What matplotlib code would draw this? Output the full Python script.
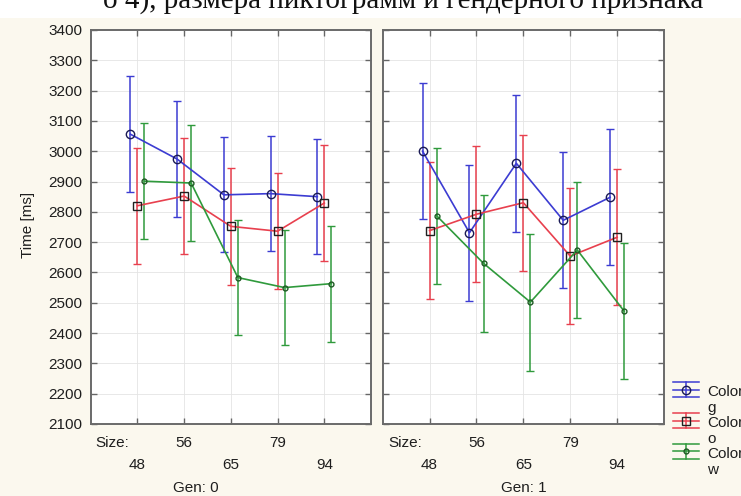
import matplotlib
matplotlib.use("Agg")
import matplotlib.pyplot as plt
import matplotlib.transforms as mtransforms
from matplotlib.legend_handler import HandlerBase
from matplotlib.lines import Line2D
from matplotlib.patches import Rectangle
import numpy as np

sizes = ["48", "56", "65", "79", "94"]
gens = ["Gen: 0", "Gen: 1"]
labels = ["Color\ng", "Color\no", "Color\nw"]

# Gen 0: means and half-widths of the error bars
g0_mean = [3056, 2974, 2856, 2860, 2850]
g0_err = [192, 192, 190, 190, 190]
o0_mean = [2820, 2852, 2752, 2736, 2829]
o0_err = [192, 192, 193, 192, 191]
w0_mean = [2901, 2895, 2583, 2550, 2563]
w0_err = [192, 192, 190, 190, 191]

# Gen 1
g1_mean = [3000, 2731, 2960, 2772, 2848]
g1_err = [225, 225, 225, 225, 224]
o1_mean = [2738, 2792, 2830, 2654, 2716]
o1_err = [225, 225, 225, 225, 225]
w1_mean = [2787, 2630, 2502, 2674, 2472]
w1_err = [225, 225, 226, 224, 225]

panels = [
    [(g0_mean, g0_err), (o0_mean, o0_err), (w0_mean, w0_err)],
    [(g1_mean, g1_err), (o1_mean, o1_err), (w1_mean, w1_err)],
]

colors = ["#3c3cd2", "#e8404e", "#2f9a3c"]
edge = ["#1a1a55", "#202020", "#1f5a24"]
markers = ["o", "s", "o"]
msizes = [6, 6, 3.5]
offsets = [-0.15, 0.0, 0.15]

plt.rcParams["font.family"] = ["Liberation Sans", "DejaVu Sans"]
plt.rcParams["font.size"] = 11


class ErrBarHandler(HandlerBase):
    # statistica-style legend key: three bars, a whisker and the marker
    def create_artists(self, legend, orig_handle, xdescent, ydescent,
                       width, height, fontsize, trans):
        y0 = height / 2 - ydescent + 0.7 * fontsize
        x0, x1 = -xdescent, width - xdescent
        d = 0.5 * fontsize
        c = orig_handle.get_color()
        arts = [Line2D([x0, x1], [yy, yy], color=c, lw=1.1)
                for yy in (y0 - d, y0, y0 + d)]
        xm = (x0 + x1) / 2
        arts.append(Line2D([xm, xm], [y0 - d, y0 + d], color=c, lw=1.1))
        arts.append(Line2D([xm], [y0], ls="none",
                           marker=orig_handle.get_marker(),
                           ms=orig_handle.get_markersize(), mfc="none",
                           mec=orig_handle.get_markeredgecolor()))
        for a in arts:
            a.set_transform(trans)
        return arts


fig = plt.figure(figsize=(7.41, 4.96), dpi=100, facecolor="#fbf8ee")

# white strip with the cut-off document line at the top
fig.patches.append(Rectangle((0, 1 - 18 / 496), 1, 18 / 496, transform=fig.transFigure,
                             facecolor="white", edgecolor="none", zorder=0))
fig.text(103 / 741, 1 - 8 / 496, "о 4), размера пиктограмм и гендерного признака",
         family="Liberation Serif", fontsize=21, ha="left", va="baseline", color="#111")

ax0 = fig.add_axes([0.1224, 0.1452, 0.3783, 0.7944])
ax1 = fig.add_axes([0.5165, 0.1452, 0.3796, 0.7944])

x = np.arange(1, len(sizes) + 1)
handles = []
for k, ax in enumerate([ax0, ax1]):
    ax.set_facecolor("white")
    for j, (mean, err) in enumerate(panels[k]):
        eb = ax.errorbar(x + offsets[j], mean, yerr=err, color=colors[j], lw=1.2,
                         marker=markers[j], ms=msizes[j], mfc="none", mec=edge[j],
                         mew=1, capsize=3, elinewidth=1.1, capthick=1.1, zorder=3)
        if k == 0:
            handles.append(eb.lines[0])
    ax.set_xlim(0, 6)
    ax.set_ylim(2100, 3400)
    ax.set_xticks(x)
    ax.set_yticks(np.arange(2100, 3401, 100))
    ax.grid(True, color="#e4e4e4", lw=0.6)
    ax.set_axisbelow(True)
    ax.tick_params(direction="in", top=True, right=True, length=4, width=1,
                   color="#666666", labelbottom=False, pad=6, labelcolor="#1e1e1e")
    for s in ax.spines.values():
        s.set_color("#6a6a6a")
        s.set_linewidth(1.4)
    tr = mtransforms.blended_transform_factory(ax.transData, ax.transAxes)
    ax.text(0.11, -0.048, "Size:", transform=tr, ha="left", va="center", color="#1e1e1e")
    for i, s in enumerate(sizes):
        ax.text(x[i], -0.104 if i % 2 == 0 else -0.048, s, transform=tr,
                ha="center", va="center", color="#1e1e1e")

ax1.tick_params(labelleft=False)
ax0.text(0.376, -0.162, gens[0], transform=ax0.transAxes, ha="center", va="center", color="#1e1e1e")
ax1.text(0.502, -0.162, gens[1], transform=ax1.transAxes, ha="center", va="center", color="#1e1e1e")

fig.text(28 / 741, 1 - 225 / 496, "Time [ms]", rotation=90, ha="center", va="center", color="#1e1e1e")

leg = fig.legend(handles, labels, loc="upper left", bbox_to_anchor=(673 / 741, 1 - 385 / 496),
                 frameon=False, borderpad=0, borderaxespad=0, handlelength=1.7,
                 handletextpad=0.55, labelspacing=0.05,
                 handler_map={Line2D: ErrBarHandler()})
for t in leg.get_texts():
    t.set_color("#1e1e1e")

fig.savefig("out.png", dpi=100, facecolor=fig.get_facecolor())
